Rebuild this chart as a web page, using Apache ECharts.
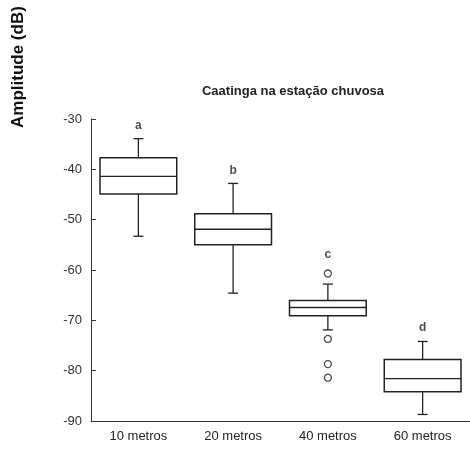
<!DOCTYPE html>
<html><head><meta charset="utf-8">
<script src="https://cdn.jsdelivr.net/npm/echarts@6/dist/echarts.min.js"></script>
<style>html,body{margin:0;padding:0;background:#fff}#c{width:470px;height:450px}</style>
</head><body><div id="c"></div>
<script>
const categories = ['10 metros', '20 metros', '40 metros', '60 metros'];
// [lowerWhisker, q1, median, q3, upperWhisker]
const boxStats = [
  [-53.3, -44.9, -41.4, -37.7, -33.9],
  [-64.6, -55.0, -51.9, -48.8, -42.8],
  [-71.9, -69.1, -67.45, -66.05, -62.8],
  [-88.7, -84.2, -81.6, -77.8, -74.2]
];
const outliers = [[2, -60.7], [2, -73.7], [2, -78.7], [2, -81.4]];
const letters = ['a', 'b', 'c', 'd'];
const letterValues = [-31.4, -40.3, -56.9, -71.5];
const yTicks = { min: -90, max: -30, interval: 10 };
const titleText = 'Caatinga na estação chuvosa';
const yName = 'Amplitude (dB)';

const chart = echarts.init(document.getElementById('c'));
const ink = '#222';
chart.setOption({
  animation: false,
  backgroundColor: '#fff',
  title: {
    text: titleText, left: 288, top: 80, textAlign: 'center',
    textStyle: { fontFamily: 'Liberation Sans', fontSize: 13, fontWeight: 'bold', color: '#222' }
  },
  graphic: [{
    type: 'text', x: 10, y: 128, rotation: Math.PI / 2,
    style: { text: yName, font: 'bold 17px "Liberation Sans"', fill: '#111' }
  }],
  grid: { left: 91, right: 0, top: 119, bottom: 29, containLabel: false },
  xAxis: {
    type: 'category', data: categories, boundaryGap: true,
    axisLine: { lineStyle: { color: '#333', width: 1 } },
    axisTick: { inside: true, length: 5, lineStyle: { color: '#333' } },
    axisLabel: { margin: 9, fontFamily: 'Liberation Sans', fontSize: 13, color: '#222' },
    splitLine: { show: false }
  },
  yAxis: {
    type: 'value', min: yTicks.min, max: yTicks.max, interval: yTicks.interval,
    axisLine: { show: true, lineStyle: { color: '#333', width: 1 } },
    axisTick: { show: true, inside: true, length: 5, lineStyle: { color: '#333' } },
    axisLabel: { margin: 9, fontFamily: 'Liberation Sans', fontSize: 13, color: '#333' },
    splitLine: { show: false }
  },
  series: [
    {
      type: 'custom',
      data: boxStats.map((s, i) => [i].concat(s)),
      renderItem: function (params, api) {
        const i = api.value(0);
        const lw = api.coord([i, api.value(1)]);
        const q1 = api.coord([i, api.value(2)]);
        const md = api.coord([i, api.value(3)]);
        const q3 = api.coord([i, api.value(4)]);
        const uw = api.coord([i, api.value(5)]);
        const band = api.size([1, 0])[0];
        const half = band * 0.405;
        const cap = 5;
        const cx = q1[0];
        const st = { stroke: ink, lineWidth: 1.3, fill: null };
        return {
          type: 'group',
          children: [
            { type: 'line', shape: { x1: cx, y1: q3[1], x2: cx, y2: uw[1] }, style: st },
            { type: 'line', shape: { x1: cx, y1: q1[1], x2: cx, y2: lw[1] }, style: st },
            { type: 'line', shape: { x1: cx - cap, y1: uw[1], x2: cx + cap, y2: uw[1] }, style: st },
            { type: 'line', shape: { x1: cx - cap, y1: lw[1], x2: cx + cap, y2: lw[1] }, style: st },
            { type: 'rect', shape: { x: cx - half, y: q3[1], width: half * 2, height: q1[1] - q3[1] }, style: { stroke: ink, lineWidth: 1.5, fill: '#fff' } },
            { type: 'line', shape: { x1: cx - half, y1: md[1], x2: cx + half, y2: md[1] }, style: st }
          ]
        };
      }
    },
    {
      type: 'scatter', data: outliers, symbol: 'circle', symbolSize: 7,
      itemStyle: { color: '#fff', borderColor: ink, borderWidth: 1.3 }
    },
    {
      type: 'scatter', data: letterValues.map((v, i) => [i, v, letters[i]]), symbolSize: 0,
      label: {
        show: true, position: 'inside', formatter: p => p.value[2],
        fontFamily: 'Liberation Sans', fontSize: 12, fontWeight: 'bold', color: '#222'
      }
    }
  ]
});
</script></body></html>
